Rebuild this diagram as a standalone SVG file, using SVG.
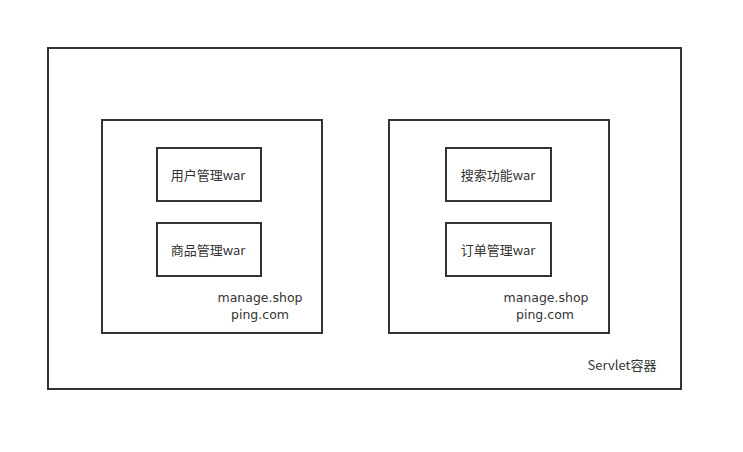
<svg xmlns="http://www.w3.org/2000/svg" width="743" height="452" viewBox="0 0 743 452">
<style>
.box{fill:#fff;stroke:#333;stroke-width:2}
.t{font-family:"Noto Sans CJK SC","Liberation Sans",sans-serif;font-size:13px;fill:#333;text-anchor:middle}
.u{font-family:"DejaVu Sans","Liberation Sans",sans-serif;font-size:12.5px;fill:#333;text-anchor:middle}
</style>
<rect width="743" height="452" fill="#fff"/>
<g id="servlet">
<rect class="box" x="48" y="48" width="633" height="341"/>
<text class="t" x="622" y="370">Servlet容器</text>
</g>
<g id="left-host">
<rect class="box" x="102" y="120" width="220" height="213"/>
<text class="u" x="260" y="302">manage.shop</text>
<text class="u" x="260" y="319">ping.com</text>
</g>
<g id="user-war">
<rect class="box" x="157" y="148" width="104" height="53"/>
<text class="t" x="208" y="180">用户管理war</text>
</g>
<g id="goods-war">
<rect class="box" x="157" y="223" width="104" height="53"/>
<text class="t" x="208" y="255">商品管理war</text>
</g>
<g id="right-host">
<rect class="box" x="389" y="120" width="220" height="213"/>
<text class="u" x="546" y="302">manage.shop</text>
<text class="u" x="545" y="319">ping.com</text>
</g>
<g id="search-war">
<rect class="box" x="446" y="148" width="105" height="53"/>
<text class="t" x="498" y="180">搜索功能war</text>
</g>
<g id="order-war">
<rect class="box" x="446" y="223" width="105" height="53"/>
<text class="t" x="498" y="255">订单管理war</text>
</g>
<g id="connectors"></g>
</svg>
